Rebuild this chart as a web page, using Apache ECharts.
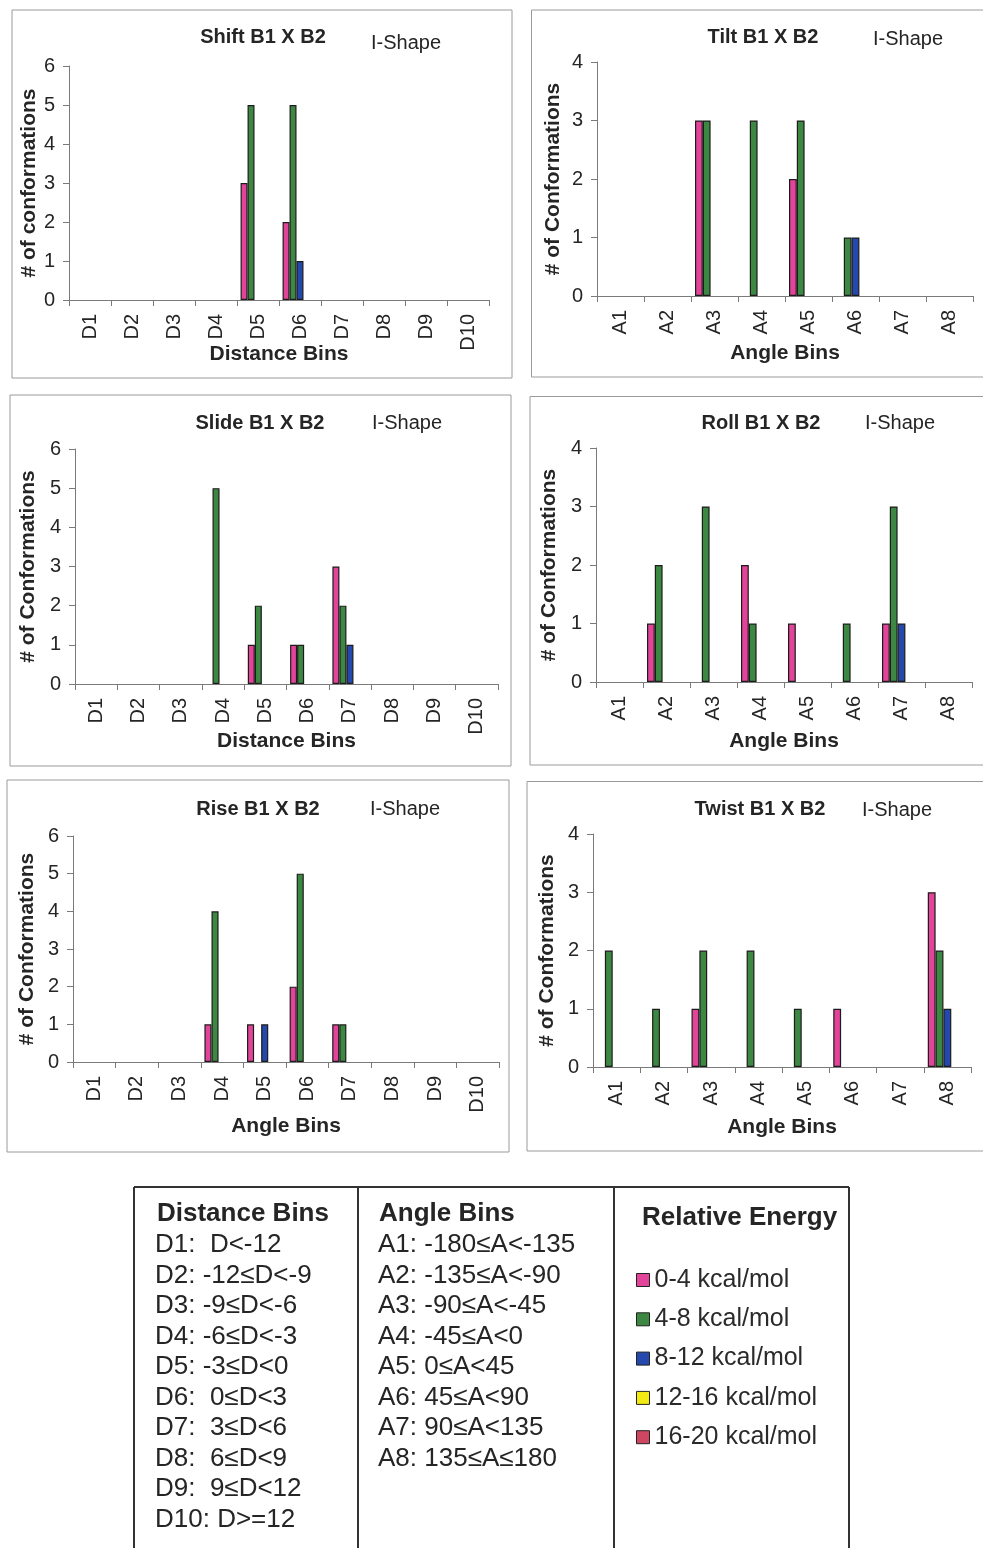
<!DOCTYPE html>
<html>
<head>
<meta charset="utf-8">
<script src="https://cdn.jsdelivr.net/npm/echarts@6/dist/echarts.min.js"></script>
<style>
  html, body { margin: 0; padding: 0; background: #ffffff; }
  #main { width: 983px; height: 1548px; }
</style>
</head>
<body>
<div id="main"></div>
<script>
// Bin categories
const distanceBins = ['D1', 'D2', 'D3', 'D4', 'D5', 'D6', 'D7', 'D8', 'D9', 'D10'];
const angleBins = ['A1', 'A2', 'A3', 'A4', 'A5', 'A6', 'A7', 'A8'];

// Relative energy classes (one bar series each)
const energyLevels = ['0-4 kcal/mol', '4-8 kcal/mol', '8-12 kcal/mol', '12-16 kcal/mol', '16-20 kcal/mol'];

// Conformation counts: one row per energy class, one column per bin
const shiftCounts = [
  [0, 0, 0, 0, 3, 2, 0, 0, 0, 0],
  [0, 0, 0, 0, 5, 5, 0, 0, 0, 0],
  [0, 0, 0, 0, 0, 1, 0, 0, 0, 0],
  [0, 0, 0, 0, 0, 0, 0, 0, 0, 0],
  [0, 0, 0, 0, 0, 0, 0, 0, 0, 0]
];
const tiltCounts = [
  [0, 0, 3, 0, 2, 0, 0, 0],
  [0, 0, 3, 3, 3, 1, 0, 0],
  [0, 0, 0, 0, 0, 1, 0, 0],
  [0, 0, 0, 0, 0, 0, 0, 0],
  [0, 0, 0, 0, 0, 0, 0, 0]
];
const slideCounts = [
  [0, 0, 0, 0, 1, 1, 3, 0, 0, 0],
  [0, 0, 0, 5, 2, 1, 2, 0, 0, 0],
  [0, 0, 0, 0, 0, 0, 1, 0, 0, 0],
  [0, 0, 0, 0, 0, 0, 0, 0, 0, 0],
  [0, 0, 0, 0, 0, 0, 0, 0, 0, 0]
];
const rollCounts = [
  [0, 1, 0, 2, 1, 0, 1, 0],
  [0, 2, 3, 1, 0, 1, 3, 0],
  [0, 0, 0, 0, 0, 0, 1, 0],
  [0, 0, 0, 0, 0, 0, 0, 0],
  [0, 0, 0, 0, 0, 0, 0, 0]
];
const riseCounts = [
  [0, 0, 0, 1, 1, 2, 1, 0, 0, 0],
  [0, 0, 0, 4, 0, 5, 1, 0, 0, 0],
  [0, 0, 0, 0, 1, 0, 0, 0, 0, 0],
  [0, 0, 0, 0, 0, 0, 0, 0, 0, 0],
  [0, 0, 0, 0, 0, 0, 0, 0, 0, 0]
];
const twistCounts = [
  [0, 0, 1, 0, 0, 1, 0, 3],
  [2, 1, 2, 2, 1, 0, 0, 2],
  [0, 0, 0, 0, 0, 0, 0, 1],
  [0, 0, 0, 0, 0, 0, 0, 0],
  [0, 0, 0, 0, 0, 0, 0, 0]
];

// Key table texts
const distanceKeyRows = ['D1:  D<-12', 'D2: -12≤D<-9', 'D3: -9≤D<-6', 'D4: -6≤D<-3', 'D5: -3≤D<0',
  'D6:  0≤D<3', 'D7:  3≤D<6', 'D8:  6≤D<9', 'D9:  9≤D<12', 'D10: D>=12'];
const angleKeyRows = ['A1: -180≤A<-135', 'A2: -135≤A<-90', 'A3: -90≤A<-45', 'A4: -45≤A<0',
  'A5: 0≤A<45', 'A6: 45≤A<90', 'A7: 90≤A<135', 'A8: 135≤A≤180'];

// ---- styling / layout ----
const FONT = '"Liberation Sans", Arial, Helvetica, sans-serif';
const TEXT = '#252525';
const AXIS = '#7a7a7a';
const energyColors = ['#e2449a', '#3c8843', '#2448ad', '#f2ea12', '#cf4662'];

const panels = [
  { title: 'Shift B1 X B2', tx: 263, ty: 37, sx: 406, sy: 43, frame: [12, 10, 500, 368],
    cats: distanceBins, counts: shiftCounts, yMax: 6, yName: '# of conformations', xName: 'Distance Bins',
    grid: { left: 69, top: 66, width: 420, height: 234 }, yGap: 29, xGap: 44 },
  { title: 'Tilt B1 X B2', tx: 763, ty: 37, sx: 908, sy: 39, frame: [531.5, 10, 480, 367],
    cats: angleBins, counts: tiltCounts, yMax: 4, yName: '# of Conformations', xName: 'Angle Bins',
    grid: { left: 597, top: 62, width: 376, height: 234 }, yGap: 33, xGap: 47 },
  { title: 'Slide B1 X B2', tx: 260, ty: 423, sx: 407, sy: 423, frame: [10, 395, 501, 371],
    cats: distanceBins, counts: slideCounts, yMax: 6, yName: '# of Conformations', xName: 'Distance Bins',
    grid: { left: 75, top: 449, width: 423, height: 235 }, yGap: 36, xGap: 47 },
  { title: 'Roll B1 X B2', tx: 761, ty: 423, sx: 900, sy: 423, frame: [530, 396.5, 480, 368.5],
    cats: angleBins, counts: rollCounts, yMax: 4, yName: '# of Conformations', xName: 'Angle Bins',
    grid: { left: 596, top: 448, width: 376, height: 234 }, yGap: 36, xGap: 49 },
  { title: 'Rise B1 X B2', tx: 258, ty: 809, sx: 405, sy: 809, frame: [7, 780, 502, 372],
    cats: distanceBins, counts: riseCounts, yMax: 6, yName: '# of Conformations', xName: 'Angle Bins',
    grid: { left: 73, top: 836, width: 426, height: 226 }, yGap: 35, xGap: 54 },
  { title: 'Twist B1 X B2', tx: 760, ty: 809, sx: 897, sy: 810, frame: [527, 781.5, 480, 369.5],
    cats: angleBins, counts: twistCounts, yMax: 4, yName: '# of Conformations', xName: 'Angle Bins',
    grid: { left: 593, top: 834, width: 378, height: 233 }, yGap: 35, xGap: 50 }
];

const grids = [], xAxes = [], yAxes = [], series = [], graphics = [];

panels.forEach((p, i) => {
  grids.push(Object.assign({ containLabel: false }, p.grid));
  xAxes.push({
    type: 'category', gridIndex: i, data: p.cats,
    name: p.xName, nameLocation: 'middle', nameGap: p.xGap, nameMoveOverlap: false,
    nameTextStyle: { fontFamily: FONT, fontSize: 21, fontWeight: 'bold', color: TEXT },
    axisLine: { lineStyle: { color: AXIS, width: 1 } },
    axisTick: { show: true, length: 6, lineStyle: { color: AXIS } },
    axisLabel: { rotate: 90, margin: 14, fontFamily: FONT, fontSize: 20, color: TEXT, interval: 0 },
    splitLine: { show: false }
  });
  yAxes.push({
    type: 'value', gridIndex: i, min: 0, max: p.yMax, interval: 1,
    name: p.yName, nameLocation: 'middle', nameGap: p.yGap, nameRotate: 90, nameMoveOverlap: false,
    nameTextStyle: { fontFamily: FONT, fontSize: 21, fontWeight: 'bold', color: TEXT },
    axisLine: { show: true, lineStyle: { color: AXIS, width: 1 } },
    axisTick: { show: true, length: 6, lineStyle: { color: AXIS } },
    axisLabel: { margin: 14, fontFamily: FONT, fontSize: 20, color: TEXT },
    splitLine: { show: false }
  });
  p.counts.forEach((row, e) => {
    series.push({
      type: 'bar', name: energyLevels[e], xAxisIndex: i, yAxisIndex: i,
      // empty bins get no outline, so nothing is drawn for them
      data: row.map(v => (v === 0 ? { value: v, itemStyle: { borderWidth: 0 } } : v)),
      barGap: '0%', barCategoryGap: '17%',
      itemStyle: { color: energyColors[e], borderColor: '#1c1c1c', borderWidth: 1.2 },
      emphasis: { disabled: true }
    });
  });
  // panel frame
  graphics.push({
    type: 'rect', shape: { x: p.frame[0], y: p.frame[1], width: p.frame[2], height: p.frame[3] },
    style: { fill: 'none', stroke: '#9a9a9a', lineWidth: 1 }, silent: true
  });
  // panel titles
  graphics.push({
    type: 'text', x: p.tx, y: p.ty,
    style: { text: p.title, fontFamily: FONT, fontSize: 20, fontWeight: 'bold', fill: TEXT,
      textAlign: 'center', textVerticalAlign: 'middle' }, silent: true
  });
  graphics.push({
    type: 'text', x: p.sx, y: p.sy,
    style: { text: 'I-Shape', fontFamily: FONT, fontSize: 20, fill: TEXT,
      textAlign: 'center', textVerticalAlign: 'middle' }, silent: true
  });
});

// Key table frame
const tableTop = 1187;
[[134, tableTop, 849, tableTop], [134, tableTop, 134, 1560], [358, tableTop, 358, 1560],
 [614, tableTop, 614, 1560], [849, tableTop, 849, 1560]].forEach(l => {
  graphics.push({ type: 'line', shape: { x1: l[0], y1: l[1], x2: l[2], y2: l[3] },
    style: { stroke: '#333333', lineWidth: 2 }, silent: true });
});

function keyText(x, y, text, bold) {
  graphics.push({
    type: 'text', x: x, y: y,
    style: { text: text, fontFamily: FONT, fontSize: 26, fontWeight: bold ? 'bold' : 'normal',
      fill: TEXT, textAlign: 'left', textVerticalAlign: 'middle' }, silent: true
  });
}
keyText(157, 1214, 'Distance Bins', true);
keyText(379, 1214, 'Angle Bins', true);
keyText(642, 1218, 'Relative Energy', true);
distanceKeyRows.forEach((t, k) => keyText(155, 1245 + 30.5 * k, t, false));
angleKeyRows.forEach((t, k) => keyText(378, 1245 + 30.5 * k, t, false));

const chart = echarts.init(document.getElementById('main'), null, { renderer: 'canvas' });
chart.setOption({
  animation: false,
  backgroundColor: '#ffffff',
  textStyle: { fontFamily: FONT },
  grid: grids,
  xAxis: xAxes,
  yAxis: yAxes,
  series: series,
  legend: {
    data: energyLevels, orient: 'vertical', left: 636, top: 1267, padding: 0,
    itemWidth: 13, itemHeight: 13, itemGap: 13.3, itemTextGap: 6, icon: 'rect',
    selectedMode: false,
    itemStyle: { borderColor: '#222222', borderWidth: 1 },
    textStyle: { fontFamily: FONT, fontSize: 25, lineHeight: 26, color: '#2a2a2a' }
  },
  graphic: graphics
});
</script>
</body>
</html>
